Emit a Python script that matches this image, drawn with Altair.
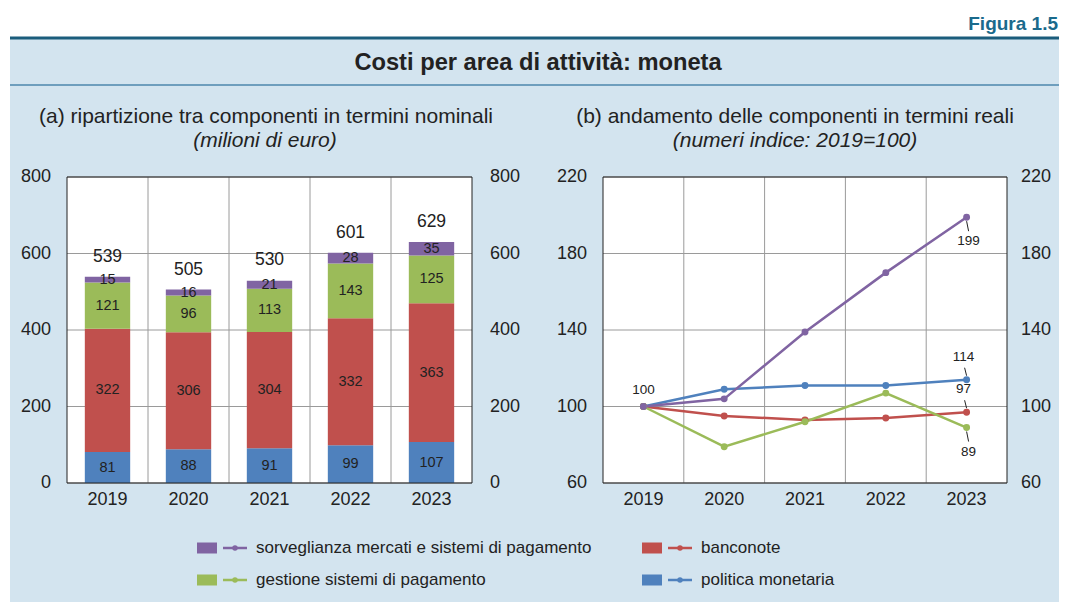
import altair as alt
import pandas as pd

# ---------------- data ----------------
years = ["2019", "2020", "2021", "2022", "2023"]
series = [
    "politica monetaria",
    "banconote",
    "gestione sistemi di pagamento",
    "sorveglianza mercati e sistemi di pagamento",
]
colors = ["#4f81bd", "#c0504d", "#9bbb59", "#8064a2"]

# (a) nominal values (milioni di euro)
nom_politica = [81, 88, 91, 99, 107]
nom_banconote = [322, 306, 304, 332, 363]
nom_gestione = [121, 96, 113, 143, 125]
nom_sorveglianza = [15, 16, 21, 28, 35]
nom_totals = [539, 505, 530, 601, 629]
ticks_a = [0, 200, 400, 600, 800]

# (b) real index (2019=100)
idx_politica = [100, 109, 111, 111, 114]
idx_banconote = [100, 95, 93, 94, 97]
idx_gestione = [100, 79, 92, 107, 89]
idx_sorveglianza = [100, 104, 139, 170, 199]
ticks_b = [60, 100, 140, 180, 220]

# annotations on panel (b)
ann_start = [("2019", 100, "100")]
ann_above = [("2023", 114, "114"), ("2023", 97, "97")]
ann_below = [("2023", 199, "199"), ("2023", 89, "89")]

# legend layout (2 x 2)
legend_series = [series[3], series[1], series[2], series[0]]
legend_col = [0, 1, 0, 1]
legend_row = [0, 0, 1, 1]

main_title = "Costi per area di attività: moneta"
fig_label = "Figura 1.5"
title_a = "(a) ripartizione tra componenti in termini nominali"
sub_a = "(milioni di euro)"
title_b = "(b) andamento delle componenti in termini reali"
sub_b = "(numeri indice: 2019=100)"

# ---------------- tables ----------------
nom_lists = [nom_politica, nom_banconote, nom_gestione, nom_sorveglianza]
idx_lists = [idx_politica, idx_banconote, idx_gestione, idx_sorveglianza]
nom_rows, idx_rows = [], []
for k, s in enumerate(series):
    for i, y in enumerate(years):
        nom_rows.append({"year": y, "series": s, "order": k, "value": nom_lists[k][i]})
        idx_rows.append({"year": y, "series": s, "order": k, "value": idx_lists[k][i]})
nom_df = pd.DataFrame(nom_rows)
idx_df = pd.DataFrame(idx_rows)
tot_df = pd.DataFrame({"year": years, "total": nom_totals})
year_df = pd.DataFrame({"year": years})
ta_df = pd.DataFrame({"tick": ticks_a})
tb_df = pd.DataFrame({"tick": ticks_b})
grid_df = pd.DataFrame({"b": list(range(1, len(years)))})

def ann_df(lst):
    return pd.DataFrame({"year": [a[0] for a in lst], "value": [a[1] for a in lst],
                         "label": [a[2] for a in lst]})

leg_df = pd.DataFrame({"series": legend_series, "col": legend_col, "row": legend_row})
one = pd.DataFrame({"k": [0]})

# ---------------- style / geometry ----------------
FONT = "Liberation Sans"
TXT = "#222222"
BG = "#d3e4ef"
GRID = "#9a9a9a"
W, H = 1051, 594
AX0, AX1 = 59, 464        # panel (a) plot x-range
BX0, BX1 = 595, 999       # panel (b) plot x-range
PY0, PY1 = 169, 475       # plot y-range (top, bottom)

xbandA = alt.Scale(type="band", domain=years, range=[AX0, AX1], paddingInner=0.44, paddingOuter=0.22)
xptA = alt.Scale(type="point", domain=years, range=[AX0, AX1], padding=0.5)
xptB = alt.Scale(type="point", domain=years, range=[BX0, BX1], padding=0.5)
xgridA = alt.Scale(domain=[0, len(years)], range=[AX0, AX1], nice=False, zero=False)
xgridB = alt.Scale(domain=[0, len(years)], range=[BX0, BX1], nice=False, zero=False)
yA = alt.Scale(domain=[0, 800], range=[PY1, PY0], nice=False, zero=False)
yB = alt.Scale(domain=[60, 220], range=[PY1, PY0], nice=False, zero=False)
cscale = alt.Scale(domain=series, range=colors)

def X(f, sc):
    return alt.X(f, scale=sc, axis=None, title=None)

def Y(f, sc):
    return alt.Y(f, scale=sc, axis=None, title=None)

def C():
    return alt.Color("series:N", scale=cscale, legend=None)

layers = []
ob = alt.Chart(one)

# ---------------- header ----------------
layers += [
    ob.mark_rect(color="white").encode(x=alt.value(0), x2=alt.value(W), y=alt.value(0), y2=alt.value(29)),
    ob.mark_rect(color="white").encode(x=alt.value(0), x2=alt.value(2), y=alt.value(0), y2=alt.value(H)),
    ob.mark_rule(color="#1b5d7c", strokeWidth=3).encode(x=alt.value(2), x2=alt.value(W), y=alt.value(30)),
    ob.mark_rule(color="#4d87ad", strokeWidth=1.5).encode(x=alt.value(2), x2=alt.value(W), y=alt.value(77)),
    ob.mark_text(font=FONT, fontSize=23.7, fontWeight="bold", color=TXT, baseline="alphabetic",
                 align="center").encode(x=alt.value(530), y=alt.value(62), text=alt.value(main_title)),
    ob.mark_text(font=FONT, fontSize=19, fontWeight="bold", color="#1a6a8c", baseline="alphabetic",
                 align="right").encode(x=alt.value(W - 1), y=alt.value(22), text=alt.value(fig_label)),
]

# ---------------- panel titles ----------------
layers += [
    ob.mark_text(font=FONT, fontSize=21, color=TXT).encode(
        x=alt.value(258), y=alt.value(109), text=alt.value(title_a)),
    ob.mark_text(font=FONT, fontSize=21, fontStyle="italic", color=TXT).encode(
        x=alt.value(257), y=alt.value(133), text=alt.value(sub_a)),
    ob.mark_text(font=FONT, fontSize=21, color=TXT).encode(
        x=alt.value(787), y=alt.value(109), text=alt.value(title_b)),
    ob.mark_text(font=FONT, fontSize=21, fontStyle="italic", color=TXT).encode(
        x=alt.value(787), y=alt.value(133), text=alt.value(sub_b)),
]

# ---------------- plot backgrounds ----------------
for x0, x1 in [(AX0, AX1), (BX0, BX1)]:
    layers.append(ob.mark_rect(color="white").encode(
        x=alt.value(x0), x2=alt.value(x1), y=alt.value(PY0), y2=alt.value(PY1)))

# ---------------- grids ----------------
layers += [
    alt.Chart(ta_df).mark_rule(color=GRID, strokeWidth=1).encode(
        y=Y("tick:Q", yA), x=alt.value(AX0), x2=alt.value(AX1)),
    alt.Chart(tb_df).mark_rule(color=GRID, strokeWidth=1).encode(
        y=Y("tick:Q", yB), x=alt.value(BX0), x2=alt.value(BX1)),
    alt.Chart(grid_df).mark_rule(color=GRID, strokeWidth=1).encode(
        x=X("b:Q", xgridA), y=alt.value(PY0), y2=alt.value(PY1)),
    alt.Chart(grid_df).mark_rule(color=GRID, strokeWidth=1).encode(
        x=X("b:Q", xgridB), y=alt.value(PY0), y2=alt.value(PY1)),
]

# ---------------- panel (a): stacked bars ----------------
stacked = alt.Chart(nom_df).transform_stack(
    stack="value", groupby=["year"], as_=["y0", "y1"],
    sort=[alt.SortField("order", order="ascending")]
).transform_calculate(mid="(datum.y0 + datum.y1) / 2")

layers += [
    stacked.mark_bar(strokeWidth=0).encode(x=X("year:O", xbandA), y=Y("y0:Q", yA), y2="y1:Q", color=C()),
    stacked.mark_text(font=FONT, fontSize=14.5, color=TXT).encode(
        x=X("year:O", xptA), y=Y("mid:Q", yA), text="value:Q"),
    alt.Chart(tot_df).mark_text(font=FONT, fontSize=17.5, color=TXT, dy=-20).encode(
        x=X("year:O", xptA), y=Y("total:Q", yA), text="total:Q"),
]

# ---------------- panel (b): lines ----------------
layers += [
    alt.Chart(idx_df).mark_line(strokeWidth=2.5).encode(
        x=X("year:O", xptB), y=Y("value:Q", yB), color=C(), order=alt.Order("year:O")),
    alt.Chart(idx_df).mark_point(filled=True, size=48, opacity=1).encode(
        x=X("year:O", xptB), y=Y("value:Q", yB), color=C()),
    alt.Chart(ann_df(ann_above)).mark_rule(color=TXT, strokeWidth=1, yOffset=-4, y2Offset=-12,
                                          x2Offset=-2).encode(
        x=X("year:O", xptB), x2="year:O", y=Y("value:Q", yB), y2="value:Q"),
    alt.Chart(ann_df(ann_below)).mark_rule(color=TXT, strokeWidth=1, yOffset=4, y2Offset=14,
                                          x2Offset=2).encode(
        x=X("year:O", xptB), x2="year:O", y=Y("value:Q", yB), y2="value:Q"),
    alt.Chart(ann_df(ann_start)).mark_text(font=FONT, fontSize=13.5, color=TXT, dy=-17).encode(
        x=X("year:O", xptB), y=Y("value:Q", yB), text="label:N"),
    alt.Chart(ann_df(ann_above)).mark_text(font=FONT, fontSize=13.5, color=TXT, dy=-23, dx=-3).encode(
        x=X("year:O", xptB), y=Y("value:Q", yB), text="label:N"),
    alt.Chart(ann_df(ann_below)).mark_text(font=FONT, fontSize=13.5, color=TXT, dy=24, dx=2).encode(
        x=X("year:O", xptB), y=Y("value:Q", yB), text="label:N"),
]

# ---------------- frames ----------------
for x0, x1 in [(AX0, AX1), (BX0, BX1)]:
    layers.append(ob.mark_rect(fillOpacity=0, stroke="#222222", strokeWidth=1).encode(
        x=alt.value(x0), x2=alt.value(x1), y=alt.value(PY0), y2=alt.value(PY1)))

# ---------------- axis labels ----------------
LBL = dict(font=FONT, fontSize=18, color=TXT)
layers += [
    alt.Chart(ta_df).mark_text(align="right", **LBL).encode(x=alt.value(AX0 - 16), y=Y("tick:Q", yA), text="tick:Q"),
    alt.Chart(ta_df).mark_text(align="left", **LBL).encode(x=alt.value(AX1 + 18), y=Y("tick:Q", yA), text="tick:Q"),
    alt.Chart(tb_df).mark_text(align="right", **LBL).encode(x=alt.value(BX0 - 16), y=Y("tick:Q", yB), text="tick:Q"),
    alt.Chart(tb_df).mark_text(align="left", **LBL).encode(x=alt.value(BX1 + 14), y=Y("tick:Q", yB), text="tick:Q"),
    alt.Chart(year_df).mark_text(**LBL).encode(x=X("year:O", xptA), y=alt.value(PY1 + 17), text="year:N"),
    alt.Chart(year_df).mark_text(**LBL).encode(x=X("year:O", xptB), y=alt.value(PY1 + 17), text="year:N"),
]

# ---------------- legend ----------------
lx = alt.X("col:O", axis=None, scale=alt.Scale(type="point", domain=[0, 1], range=[199, 644], padding=0))
ly = alt.Y("row:O", axis=None, scale=alt.Scale(type="point", domain=[0, 1], range=[540, 572], padding=0))
gb = alt.Chart(leg_df)
layers += [
    gb.mark_point(shape="M-1,-0.55L1,-0.55L1,0.55L-1,0.55Z", size=400, filled=True,
                  opacity=1, strokeWidth=0).encode(x=lx, y=ly, color=C()),
    gb.mark_point(shape="M-1,0L1,0", size=576, filled=False, opacity=1,
                  strokeWidth=2.5, xOffset=28).encode(x=lx, y=ly, color=C()),
    gb.mark_point(shape="circle", size=30, filled=True, opacity=1, xOffset=28).encode(
        x=lx, y=ly, color=C()),
    gb.mark_text(font=FONT, fontSize=17, color=TXT, align="left", dx=49).encode(
        x=lx, y=ly, text="series:N"),
]

chart = alt.layer(*layers).resolve_scale(
    x="independent", y="independent"
).properties(
    width=W, height=H, padding=0, background=BG,
    autosize=alt.AutoSizeParams(type="none"),
).configure_view(strokeWidth=0)

chart.save("out.html", embed_options={"renderer": "svg", "actions": False})
